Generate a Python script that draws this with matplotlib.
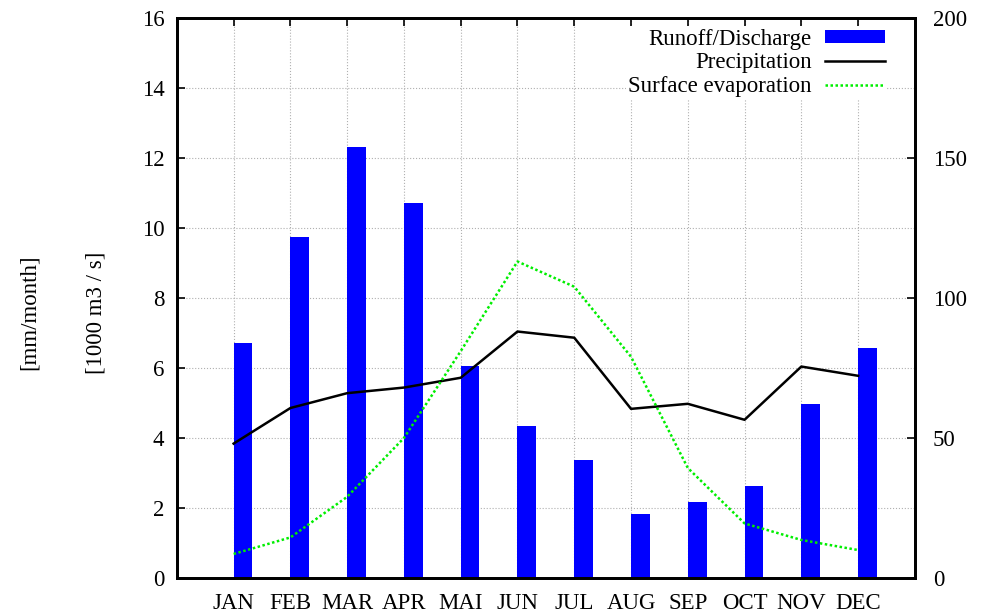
import numpy as np
import matplotlib
matplotlib.use('Agg')
import matplotlib.pyplot as plt

months = ['JAN', 'FEB', 'MAR', 'APR', 'MAI', 'JUN', 'JUL', 'AUG', 'SEP', 'OCT', 'NOV', 'DEC']
# runoff in 1000 m3/s
runoff = [6.7, 9.75, 12.3, 10.7, 6.05, 4.35, 3.37, 1.83, 2.17, 2.63, 4.97, 6.58]
# precipitation and evaporation in mm/month
precip = [48, 60.7, 66, 68, 71.5, 88, 85.8, 60.4, 62.2, 56.5, 75.5, 72.2]
evap = [8.6, 14.5, 29, 50, 81, 113, 104, 79, 39.3, 19.5, 13.6, 10]

plt.rcParams['font.family'] = ['Liberation Serif', 'DejaVu Serif']
plt.rcParams['font.size'] = 16.5

fig = plt.figure(figsize=(9.88, 6.13), dpi=100)
ax = fig.add_axes([0.179, 0.057, 0.747, 0.914])
x = np.arange(len(months))

ax.bar(x, runoff, width=0.33, align='edge', color='#0000ff', zorder=2,
       label='Runoff/Discharge')
ax.set_xlim(-1, 12)
ax.set_ylim(0, 16)
ax.set_yticks(range(0, 17, 2))
ax.set_xticks(x)
ax.set_xticklabels(months)
ax.grid(True, color='#b0b0b0', linestyle=':', linewidth=0.8, zorder=0)
ax.set_axisbelow(True)
ax.tick_params(direction='in', length=6, width=1.2, top=True, pad=9)
# bars sit on the month ticks, so no bottom tick marks
ax.tick_params(axis='x', pad=11, bottom=False)
for s in ax.spines.values():
    s.set_linewidth(2)

ax2 = ax.twinx()
ax2.plot(x, precip, color='black', linewidth=1.8, label='Precipitation')
ax2.plot(x, evap, color='#00ee00', linewidth=1.8, linestyle=(0, (1, 1)),
         label='Surface evaporation')
ax2.set_ylim(0, 200)
ax2.set_yticks(range(0, 201, 50))
ax2.tick_params(direction='in', length=6, width=1.2, pad=13)
for s in ax2.spines.values():
    s.set_linewidth(2)

h1, l1 = ax.get_legend_handles_labels()
h2, l2 = ax2.get_legend_handles_labels()
leg = ax2.legend(h1 + h2, l1 + l2, loc='upper right', markerfirst=False,
                 frameon=True, framealpha=1, facecolor='white', edgecolor='none',
                 handlelength=2.6, handleheight=0.5, labelspacing=0.12,
                 handletextpad=0.6, borderpad=0.1, fontsize=16.5,
                 bbox_to_anchor=(0.978, 1.005))
leg.get_frame().set_linewidth(0)

fig.text(0.03, 0.49, '[mm/month]', rotation=90, ha='center', va='center', fontsize=16.5)
fig.text(0.097, 0.49, '[1000 m3 / s]', rotation=90, ha='center', va='center', fontsize=16.5)

fig.savefig('out.png', dpi=100)
